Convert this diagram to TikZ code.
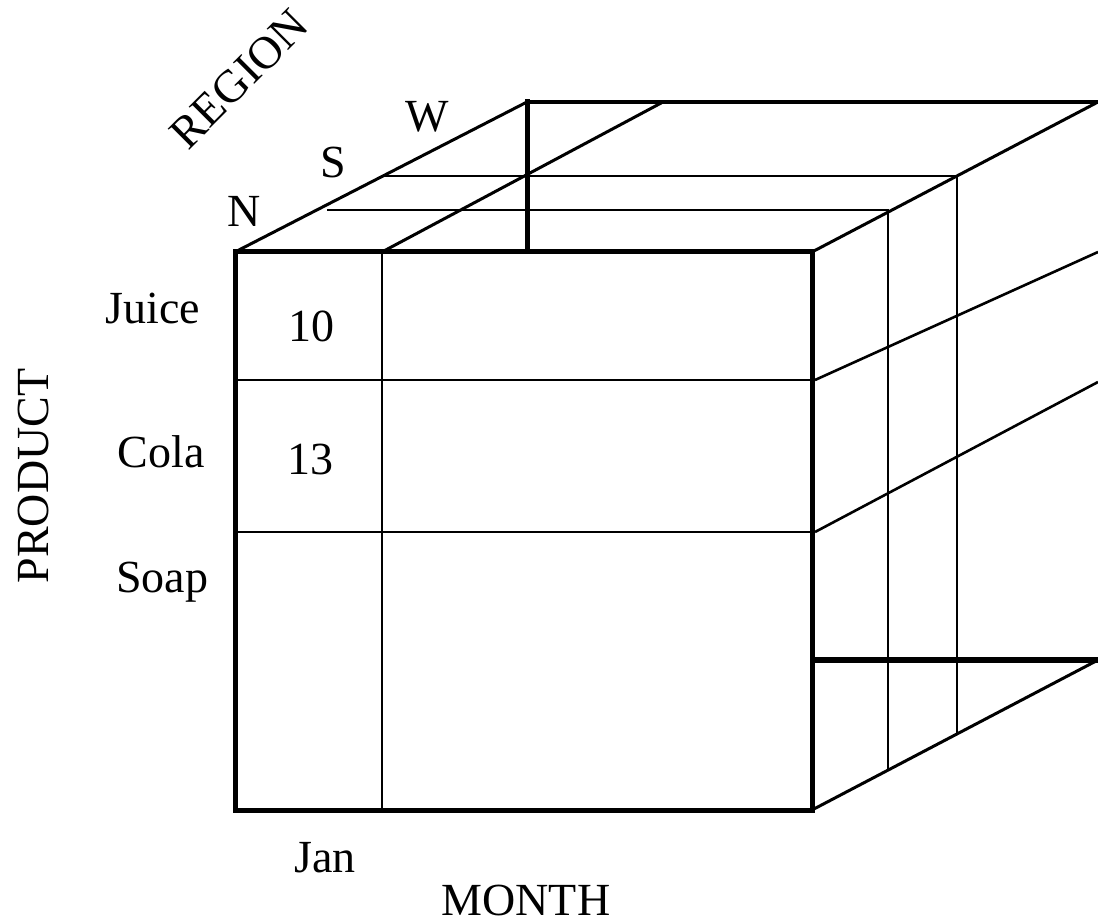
\documentclass[tikz,border=0pt]{standalone}
\usepackage{fontspec}
\setmainfont{Liberation Serif}
\begin{document}
\begin{tikzpicture}[x=1pt,y=-1pt,
  thickln/.style={line width=5pt,line cap=rect},
  midln/.style={line width=3pt},
  thinln/.style={line width=2.6pt},
  lbl/.style={font=\fontsize{46}{50}\selectfont,inner sep=0pt,anchor=base}]
\useasboundingbox (0,0) rectangle (1098,920);
% corners
\coordinate (FTL) at (235,252);
\coordinate (FTR) at (812,252);
\coordinate (FBR) at (812,810);
\coordinate (FBL) at (235,810);
\coordinate (BTL) at (527,102);
\coordinate (BTR) at (1098,102);
\coordinate (BLm) at (527,252);
\coordinate (BBm) at (812,660);
\coordinate (BBR) at (1098,660);
% month column
\coordinate (JT) at (382,252);
\coordinate (JB) at (382,810);
\coordinate (JBk) at (663,102);
% region slices
\coordinate (S1a) at (327,210);
\coordinate (S1b) at (888,210);
\coordinate (S1c) at (888,770);
\coordinate (S2a) at (382,176);
\coordinate (S2b) at (957,176);
\coordinate (S2c) at (957,733);
% product rows
\coordinate (P1a) at (235,380);
\coordinate (P1b) at (812,380);
\coordinate (P1c) at (815,380);
\coordinate (P1d) at (1098,252);
\coordinate (P2a) at (235,532);
\coordinate (P2b) at (812,532);
\coordinate (P2c) at (815,532);
\coordinate (P2d) at (1098,382);

% thin interior lines
\draw[thinln] (S1a) -- (S1b) -- (S1c);
\draw[thinln] (S2a) -- (S2b) -- (S2c);
\draw[thinln] (P1a) -- (P1b);
\draw[thinln] (P2a) -- (P2b);
\draw[thinln] (P1c) -- (P1d);
\draw[thinln] (P2c) -- (P2d);
\draw[thinln] (JT) -- (JB);
% diagonals
\draw[midln] (FTL) -- (BTL);
\draw[midln] (FTR) -- (BTR);
\draw[midln] (FBR) -- (BBR);
\draw[midln] (JT) -- (JBk);
% thick edges
\draw[line width=4pt] (BTL) -- (BTR);
\draw[thickln] (BTL) -- (BLm);
\draw[line width=5.5pt] (BBm) -- (BBR);
\draw[thickln] (FTL) -- (FTR) -- (FBR) -- (FBL) -- cycle;

% labels
\node[lbl,rotate=45,anchor=center] (region) at (239,79) {REGION};
\node[lbl] (n) at (244,227) {N};
\node[lbl] (s) at (333,178) {S};
\node[lbl] (w) at (427,132) {W};
\node[lbl] (juice) at (153,323) {Juice};
\node[lbl] (cola) at (161,467) {Cola};
\node[lbl] (soap) at (162,592) {Soap};
\node[lbl] (v10) at (311,341) {10};
\node[lbl] (v13) at (310,474) {13};
\node[lbl,rotate=90] (product) at (48,476) {PRODUCT};
\node[lbl] (jan) at (325,872) {Jan};
\node[lbl] (month) at (526,915) {MONTH};
\end{tikzpicture}
\end{document}
